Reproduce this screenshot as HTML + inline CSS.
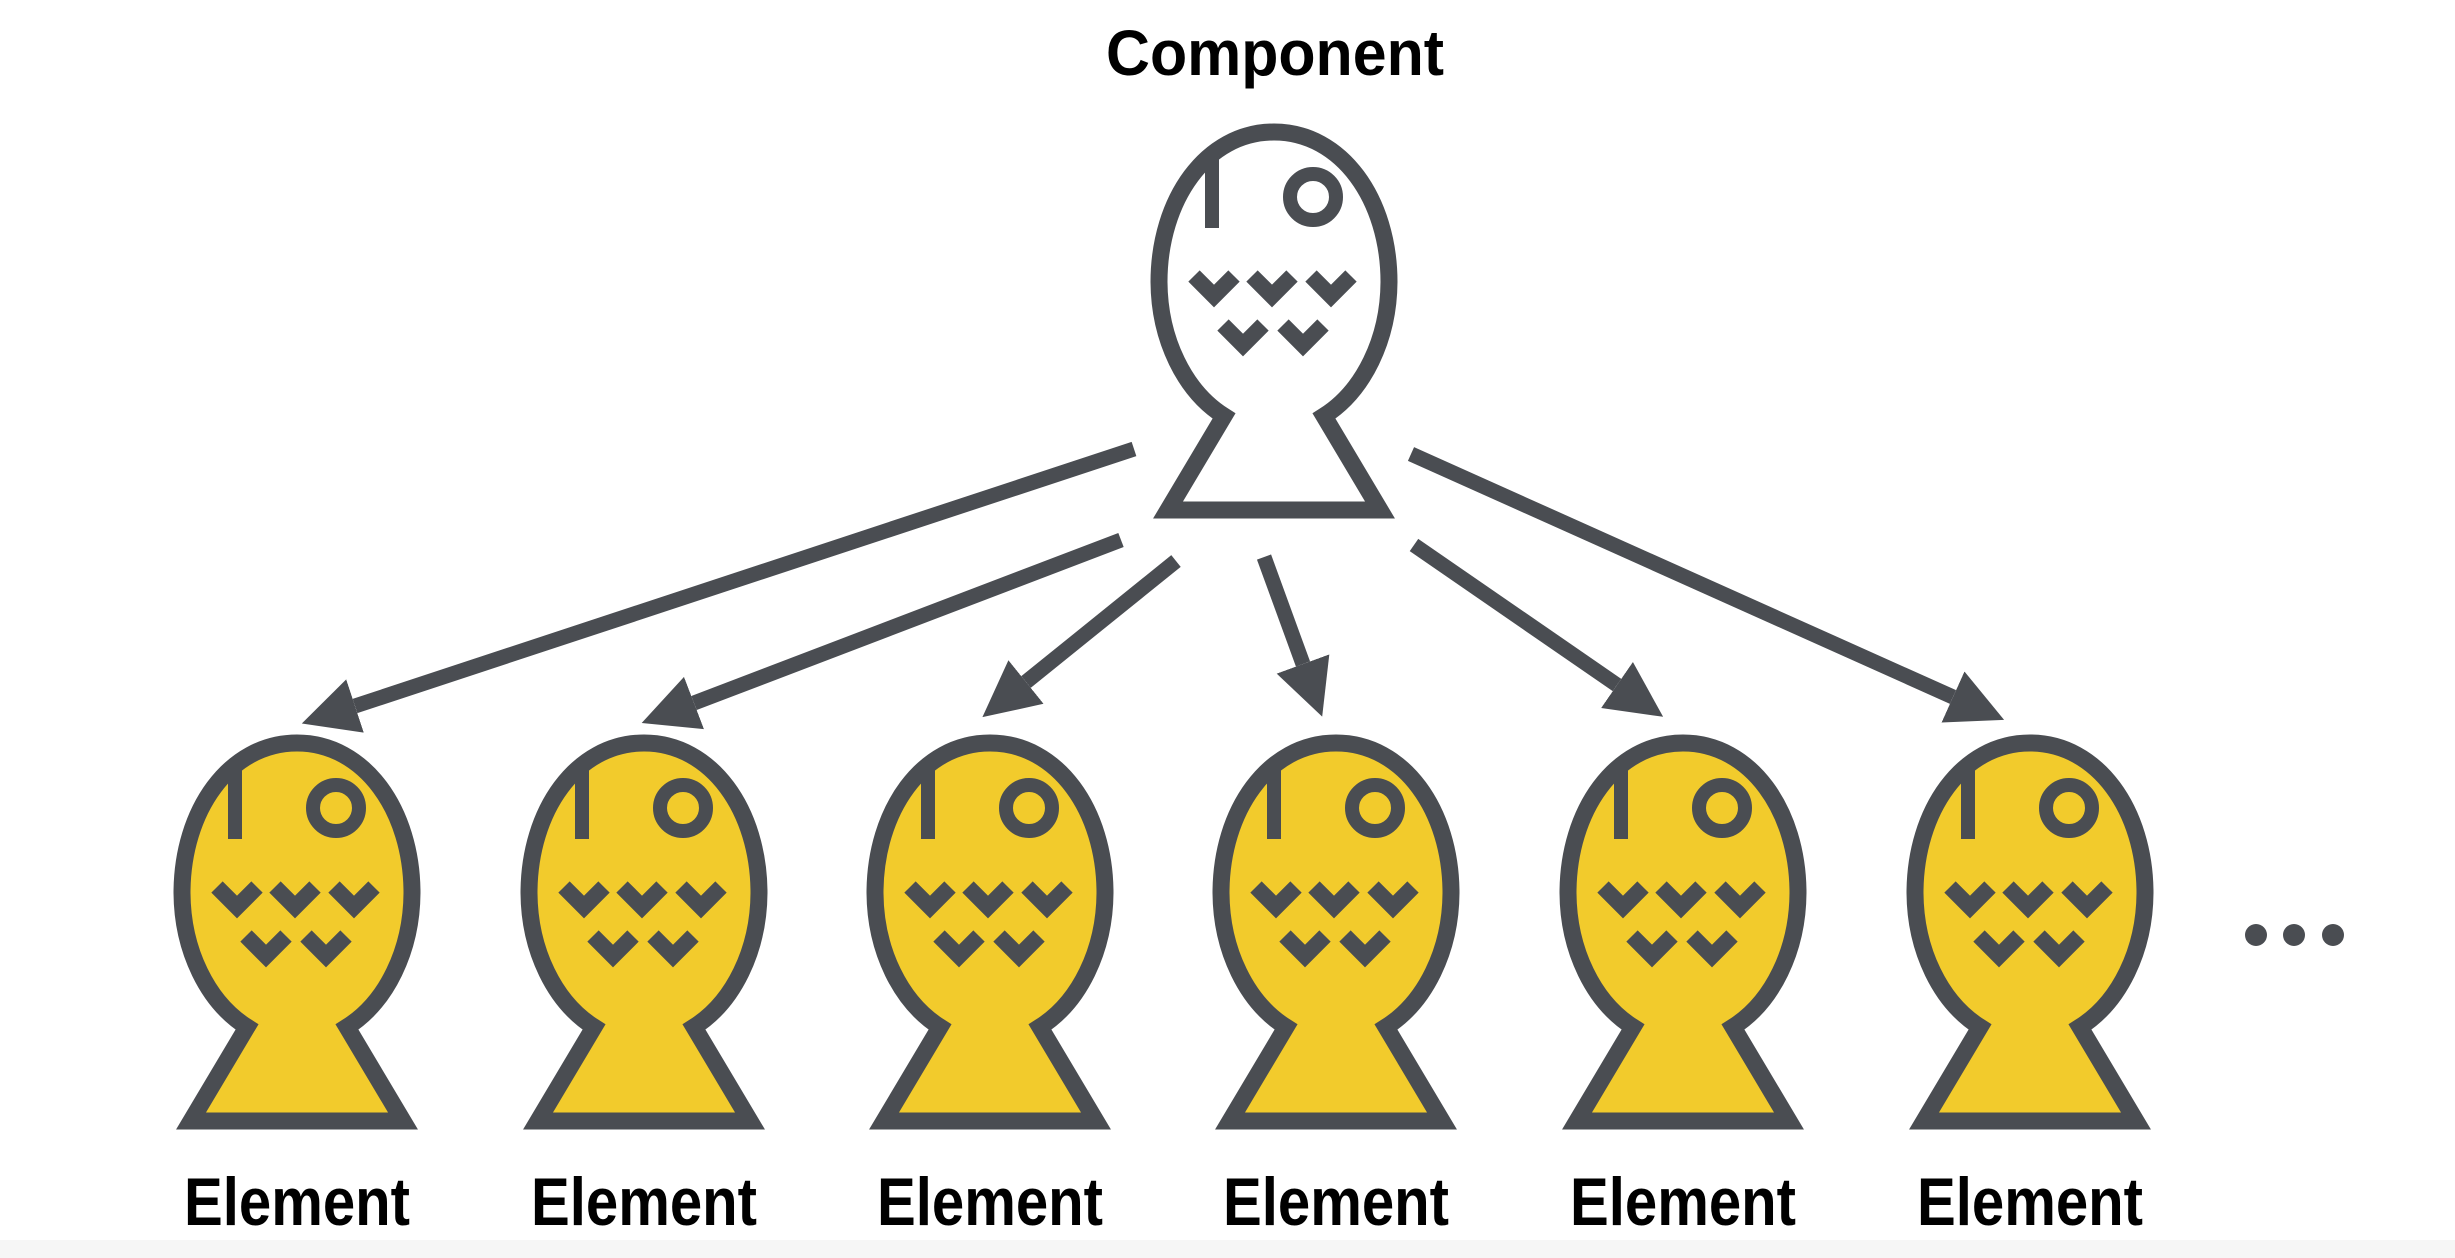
<!DOCTYPE html>
<html><head><meta charset="utf-8"><style>
html,body{margin:0;padding:0;background:#fff;}
svg{display:block;}
</style></head><body>
<svg width="2455" height="1258" viewBox="0 0 2455 1258" xmlns="http://www.w3.org/2000/svg">
<defs>
<marker id="ah" viewBox="0 0 10 10" refX="0" refY="5" markerWidth="56" markerHeight="58" markerUnits="userSpaceOnUse" orient="auto">
<path d="M0,0 L10,5 L0,10 z" fill="#4a4d52"/>
</marker>
<g id="fish">
<path d="M1224,416 A115,150 0 0 1 1159,282 C1159,200 1206,132 1274,132 C1342,132 1389,200 1389,282 A115,150 0 0 1 1324,416 L1380,510 L1168,510 Z" stroke="#4a4d52" stroke-width="17" stroke-linejoin="miter"/>
<line x1="1212" y1="150" x2="1212" y2="228" stroke="#4a4d52" stroke-width="14"/>
<circle cx="1313" cy="197" r="23" fill="none" stroke="#4a4d52" stroke-width="14"/>
<g fill="none" stroke="#4a4d52" stroke-width="16" stroke-linecap="butt">
<polyline points="1194,276 1214,296 1234,276"/>
<polyline points="1252,276 1272,296 1292,276"/>
<polyline points="1311,276 1331,296 1351,276"/>
<polyline points="1223,325 1243,345 1263,325"/>
<polyline points="1283,325 1303,345 1323,325"/>
</g>
</g>
</defs>
<rect x="0" y="1240" width="2455" height="18" fill="#f6f6f6"/>
<text x="1275" y="75" font-family="Liberation Sans, sans-serif" font-size="64" font-weight="bold" text-anchor="middle" textLength="338" lengthAdjust="spacingAndGlyphs" fill="#000">Component</text>
<use href="#fish" fill="#fff"/>
<g stroke="#4a4d52" stroke-width="15" marker-end="url(#ah)">
<line x1="1134" y1="449" x2="355" y2="706"/>
<line x1="1121" y1="540" x2="694" y2="703"/>
<line x1="1176" y1="561" x2="1026" y2="682"/>
<line x1="1264" y1="557" x2="1303" y2="664"/>
<line x1="1414" y1="545" x2="1617" y2="685"/>
<line x1="1411" y1="454" x2="1953" y2="697"/>
</g>
<g fill="#f2cb2c">
<use href="#fish" transform="translate(-977,611)"/>
<use href="#fish" transform="translate(-630,611)"/>
<use href="#fish" transform="translate(-284,611)"/>
<use href="#fish" transform="translate(62,611)"/>
<use href="#fish" transform="translate(409,611)"/>
<use href="#fish" transform="translate(756,611)"/>
</g>
<g font-family="Liberation Sans, sans-serif" font-size="68" font-weight="bold" text-anchor="middle" fill="#000">
<text x="297" y="1225" textLength="226" lengthAdjust="spacingAndGlyphs">Element</text>
<text x="644" y="1225" textLength="226" lengthAdjust="spacingAndGlyphs">Element</text>
<text x="990" y="1225" textLength="226" lengthAdjust="spacingAndGlyphs">Element</text>
<text x="1336" y="1225" textLength="226" lengthAdjust="spacingAndGlyphs">Element</text>
<text x="1683" y="1225" textLength="226" lengthAdjust="spacingAndGlyphs">Element</text>
<text x="2030" y="1225" textLength="226" lengthAdjust="spacingAndGlyphs">Element</text>
</g>
<g fill="#4a4d52">
<circle cx="2256" cy="935" r="11"/>
<circle cx="2294" cy="935" r="11"/>
<circle cx="2333" cy="935" r="11"/>
</g>
</svg>
</body></html>
